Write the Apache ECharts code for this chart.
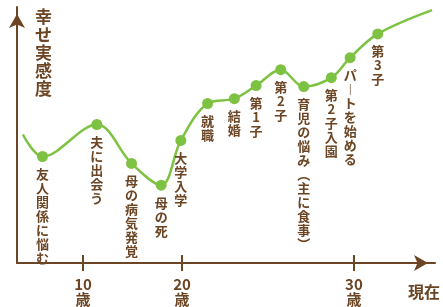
<!DOCTYPE html>
<html>
<head>
<meta charset="utf-8">
<script src="https://cdn.jsdelivr.net/npm/echarts@6/dist/echarts.min.js"></script>
<style>
  html, body { margin: 0; padding: 0; background: #fff; }
  #chart { width: 443px; height: 307px; }
</style>
</head>
<body>
<div id="chart"></div>
<script>
// 横軸：人生のタイムライン上の位置（0〜100）、縦軸：幸せ実感度（0〜100）
const events = ['', '友人関係に悩む', '夫に出会う', '母の病気発覚', '母の死', '大学入学', '就職', '結婚',
  '第1子', '第2子', '育児の悩み︵主に食事︶', '第2子入園', 'パ︱トを始める', '第3子', ''];
const timeline = [1.4, 6.1, 19.1, 27.4, 34.5, 39.2, 45.6, 52.0, 57.2, 63.1, 68.6, 75.2, 79.7, 86.3, 99.3];
const happiness = [50.2, 41.6, 54.1, 38.9, 30.4, 47.9, 62.3, 64.2, 69.3, 75.5, 68.9, 72.4, 80.2, 89.5, 98.8];
const tickPos = [15.8, 39.5, 80.6];
const tickLabels = ['10', '20', '30'];

const brown = '#6b4524';
const green = '#7dc242';
const font = '"Noto Sans CJK JP", "Noto Sans", sans-serif';

const chart = echarts.init(document.getElementById('chart'));

const seriesData = events.map((name, i) => ({
  name: name,
  value: [timeline[i], happiness[i]],
  symbol: name ? 'circle' : 'none'
}));

chart.setOption({
  animation: false,
  grid: { left: 17, right: 3, top: 7, bottom: 44 },
  xAxis: [
    {
      type: 'value',
      min: 0,
      max: 100,
      splitLine: { show: false },
      axisLine: {
        lineStyle: { color: brown, width: 2 },
        symbol: ['none', 'arrow'],
        symbolSize: [12, 14],
        symbolOffset: [0, -7]
      },
      axisTick: { show: false },
      axisLabel: {
        customValues: tickPos,
        margin: 14,
        color: brown,
        fontFamily: font,
        fontSize: 15,
        lineHeight: 15,
        fontWeight: 'bold',
        formatter: (v) => {
          const i = tickPos.indexOf(v);
          return i >= 0 ? tickLabels[i] + '\n歳' : '';
        }
      },
      name: '現在',
      nameLocation: 'end',
      nameGap: 5,
      nameTextStyle: {
        color: brown,
        fontFamily: font,
        fontSize: 16,
        fontWeight: 'bold',
        align: 'right',
        verticalAlign: 'top',
        padding: [21, 0, 0, 0]
      }
    },
    {
      // 軸をまたぐ目盛り（内側の半分）
      type: 'value',
      min: 0,
      max: 100,
      position: 'bottom',
      splitLine: { show: false },
      axisLine: { show: false },
      axisLabel: { show: false },
      axisTick: {
        show: true,
        inside: true,
        length: 8,
        customValues: tickPos,
        lineStyle: { color: brown, width: 2 }
      }
    },
    {
      // 軸をまたぐ目盛り（外側の半分）
      type: 'value',
      min: 0,
      max: 100,
      position: 'bottom',
      splitLine: { show: false },
      axisLine: { show: false },
      axisLabel: { show: false },
      axisTick: {
        show: true,
        length: 8,
        customValues: tickPos,
        lineStyle: { color: brown, width: 2 }
      }
    }
  ],
  yAxis: {
    type: 'value',
    min: 0,
    max: 100,
    splitLine: { show: false },
    axisTick: { show: false },
    axisLabel: { show: false },
    axisLine: {
      show: true,
      lineStyle: { color: brown, width: 2 },
      symbol: ['none', 'arrow'],
      symbolSize: [12, 14],
      symbolOffset: [0, -7]
    },
    name: '幸\nせ\n実\n感\n度',
    nameLocation: 'end',
    nameGap: -1,
    nameTextStyle: {
      color: brown,
      fontFamily: font,
      fontSize: 17,
      lineHeight: 18,
      fontWeight: 'bold',
      align: 'left',
      verticalAlign: 'top',
      padding: [0, 0, 0, 18]
    }
  },
  series: [
    {
      type: 'line',
      smooth: 0.35,
      xAxisIndex: 0,
      data: seriesData,
      symbolSize: 11,
      itemStyle: { color: green },
      lineStyle: { color: green, width: 2.5 },
      label: {
        show: true,
        position: 'bottom',
        distance: 5,
        color: brown,
        fontFamily: font,
        fontSize: 13,
        lineHeight: 14,
        fontWeight: 'bold',
        formatter: (p) => p.name.split('').join('\n')
      }
    }
  ]
});
</script>
</body>
</html>
